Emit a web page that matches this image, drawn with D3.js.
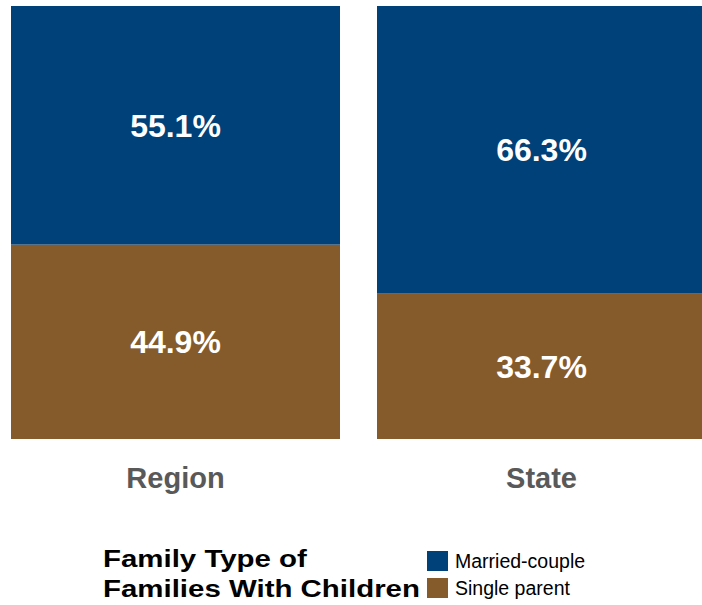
<!DOCTYPE html>
<html>
<head>
<meta charset="utf-8">
<script src="https://cdn.jsdelivr.net/npm/d3@7"></script>
<style>
  html, body { margin: 0; padding: 0; background: #ffffff; }
  svg { display: block; font-family: "Liberation Sans", Arial, sans-serif; }
</style>
</head>
<body>
<svg id="chart" width="702" height="605"></svg>
<script>
// Share of families with children by family type (percent)
const categories = ["Region", "State"];
const seriesNames = ["Married-couple", "Single parent"];
const marriedCouple = [55.1, 66.3];
const singleParent = [44.9, 33.7];
const legendTitle = ["Family Type of", "Families With Children"];

const colors = { "Married-couple": "#00417a", "Single parent": "#855b2b" };

const svg = d3.select("#chart");

const x = d3.scaleBand()
  .domain(categories)
  .range([11, 706])
  .paddingInner(0.1011)
  .paddingOuter(0);

const y = d3.scaleLinear().domain([0, 100]).range([439, 6]);

// Build stacked rows: single parent at bottom, married-couple on top
const rows = categories.map((c, i) => ({
  category: c,
  "Single parent": singleParent[i],
  "Married-couple": marriedCouple[i]
}));
const stack = d3.stack().keys(["Single parent", "Married-couple"]);
const layers = stack(rows);

const g = svg.append("g");

layers.forEach(layer => {
  const key = layer.key;
  const lg = g.append("g");
  lg.selectAll("rect")
    .data(layer)
    .join("rect")
    .attr("x", d => x(d.data.category))
    .attr("y", d => y(d[1]))
    .attr("width", x.bandwidth())
    .attr("height", d => y(d[0]) - y(d[1]))
    .attr("fill", colors[key]);

  lg.selectAll("text")
    .data(layer)
    .join("text")
    .attr("x", d => x(d.data.category) + 329 / 2)
    .attr("y", d => (y(d[0]) + y(d[1])) / 2)
    .attr("dy", "0.36em")
    .attr("text-anchor", "middle")
    .attr("fill", "#ffffff")
    .attr("font-weight", "bold")
    .attr("font-size", 32)
    .text(d => (d[1] - d[0]).toFixed(1) + "%");
});

// Category labels
const xAxis = d3.axisBottom(x).tickSize(0).tickPadding(0);
const axisG = svg.append("g")
  .attr("transform", "translate(0,462)")
  .call(xAxis);
axisG.select(".domain").remove();
axisG.selectAll(".tick").attr("transform", d => `translate(${x(d) + 329 / 2},0)`);
axisG.selectAll("text")
  .attr("font-family", "\"Liberation Sans\", Arial, sans-serif")
  .attr("font-size", 29)
  .attr("font-weight", "bold")
  .attr("fill", "#595959")
  .attr("dy", "0.88em");

// Legend title
const titleG = svg.append("g").attr("transform", "translate(103,0) scale(1.28,1)");
titleG.selectAll("text")
  .data(legendTitle)
  .join("text")
  .attr("x", 0)
  .attr("y", (d, i) => 567 + i * 30)
  .attr("font-size", 23)
  .attr("font-weight", "bold")
  .attr("fill", "#000000")
  .text(d => d);

// Legend entries
const legend = svg.append("g").attr("transform", "translate(427,551)");
const items = legend.selectAll("g")
  .data(seriesNames)
  .join("g")
  .attr("transform", (d, i) => `translate(0,${i * 27})`);
items.append("rect")
  .attr("width", 21)
  .attr("height", 20)
  .attr("fill", d => colors[d]);
items.append("text")
  .attr("x", 28)
  .attr("y", 17)
  .attr("font-size", 19.5)
  .attr("fill", "#000000")
  .text(d => d);
</script>
</body>
</html>
